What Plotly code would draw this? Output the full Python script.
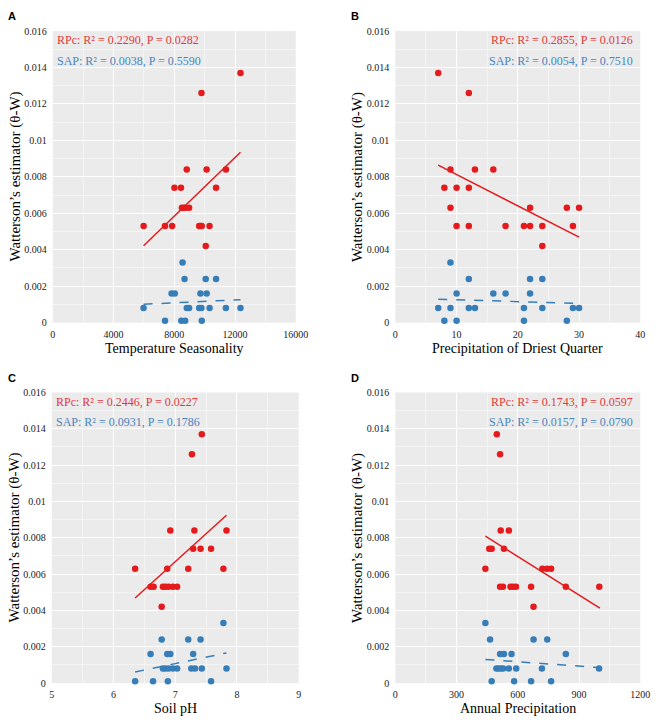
import plotly.graph_objects as go

# ---------------- data ----------------
# Panel A: Temperature Seasonality
A_red_x = [12360, 9790, 8820, 10130, 11400, 8010, 8440, 10750, 8500, 8620, 8740, 8975,
           5980, 7390, 7860, 9640, 9720, 9810, 10320, 10070]
A_red_y = [0.0137, 0.0126, 0.0084, 0.0084, 0.0084, 0.0074, 0.0074, 0.0074, 0.0063, 0.0063, 0.0063, 0.0063,
           0.0053, 0.0053, 0.0053, 0.0053, 0.0053, 0.0053, 0.0053, 0.0042]
A_blue_x = [8546, 8675, 10068, 10750, 7820, 8033, 9723, 10131, 5976, 8825, 8975, 9639, 9788,
            10325, 11396, 12358, 7390, 8461, 8718, 9810]
A_blue_y = [0.0033, 0.0024, 0.0024, 0.0024, 0.0016, 0.0016, 0.0016, 0.0016, 0.0008, 0.0008, 0.0008, 0.0008, 0.0008,
            0.0008, 0.0008, 0.0008, 0.0001, 0.0001, 0.0001, 0.0001]
A_fit_x = [5980, 12360]
A_red_fit = [0.00422, 0.00935]
A_blue_fit = [0.00101, 0.00126]
A_xticks = [0, 4000, 8000, 12000, 16000]
A_xticktext = ["0", "4000", "8000", "12000", "16000"]

# Panel B: Precipitation of Driest Quarter
B_red_x = [7, 12, 9, 13, 16, 8, 10, 12, 9, 22, 28, 30, 10, 12, 18, 21, 22, 24, 29, 24]
B_red_y = [0.0137, 0.0126, 0.0084, 0.0084, 0.0084, 0.0074, 0.0074, 0.0074, 0.0063, 0.0063, 0.0063, 0.0063,
           0.0053, 0.0053, 0.0053, 0.0053, 0.0053, 0.0053, 0.0053, 0.0042]
B_blue_x = [9, 12, 22, 24, 10, 16, 18, 22, 7, 9, 12, 13, 21, 24, 29, 30, 8, 10, 21, 28]
B_blue_y = [0.0033, 0.0024, 0.0024, 0.0024, 0.0016, 0.0016, 0.0016, 0.0016, 0.0008, 0.0008, 0.0008, 0.0008, 0.0008,
            0.0008, 0.0008, 0.0008, 0.0001, 0.0001, 0.0001, 0.0001]
B_fit_x = [7, 30]
B_red_fit = [0.00864, 0.00469]
B_blue_fit = [0.00128, 0.00106]
B_xticks = [0, 10, 20, 30, 40]
B_xticktext = ["0", "10", "20", "30", "40"]

# Panel C: Soil pH
C_red_x = [7.43, 7.27, 6.92, 7.31, 7.83, 7.29, 7.41, 7.58, 6.35, 6.87, 7.21, 7.78,
           6.60, 6.65, 6.80, 6.84, 6.89, 6.96, 7.03, 6.78]
C_red_y = [0.0137, 0.0126, 0.0084, 0.0084, 0.0084, 0.0074, 0.0074, 0.0074, 0.0063, 0.0063, 0.0063, 0.0063,
           0.0053, 0.0053, 0.0053, 0.0053, 0.0053, 0.0053, 0.0053, 0.0042]
C_blue_x = [7.78, 6.78, 7.21, 7.41, 6.60, 6.87, 6.92, 7.29, 6.80, 6.84, 6.89, 6.96, 7.03,
            7.26, 7.32, 7.43, 7.83, 6.35, 6.64, 6.88, 7.58]
C_blue_y = [0.0033, 0.0024, 0.0024, 0.0024, 0.0016, 0.0016, 0.0016, 0.0016, 0.0008, 0.0008, 0.0008, 0.0008, 0.0008,
            0.0008, 0.0008, 0.0008, 0.0008, 0.0001, 0.0001, 0.0001, 0.0001]
C_fit_x = [6.35, 7.83]
C_red_fit = [0.00468, 0.00924]
C_blue_fit = [0.00061, 0.00166]
C_xticks = [5, 6, 7, 8, 9]
C_xticktext = ["5", "6", "7", "8", "9"]

# Panel D: Annual Precipitation
D_red_x = [497, 513, 516, 556, 460, 472, 532, 441, 720, 743, 763, 513, 527, 564, 577, 591,
           665, 835, 999, 677]
D_red_y = [0.0137, 0.0126, 0.0084, 0.0084, 0.0074, 0.0074, 0.0074, 0.0063, 0.0063, 0.0063, 0.0063,
           0.0053, 0.0053, 0.0053, 0.0053, 0.0053, 0.0053, 0.0053, 0.0053, 0.0042]
D_blue_x = [441, 464, 677, 744, 513, 532, 569, 835, 495, 505, 517, 528, 556, 592, 718, 998,
            472, 582, 665, 763]
D_blue_y = [0.0033, 0.0024, 0.0024, 0.0024, 0.0016, 0.0016, 0.0016, 0.0016, 0.0008, 0.0008, 0.0008, 0.0008, 0.0008,
            0.0008, 0.0008, 0.0008, 0.0001, 0.0001, 0.0001, 0.0001]
D_fit_x = [441, 1002]
D_red_fit = [0.00809, 0.00412]
D_blue_fit = [0.0013, 0.00085]
D_xticks = [0, 300, 600, 900, 1200]
D_xticktext = ["0", "300", "600", "900", "1200"]

y_ticks = [0, 0.002, 0.004, 0.006, 0.008, 0.01, 0.012, 0.014, 0.016]
y_ticktext = ["0", "0.002", "0.004", "0.006", "0.008", "0.01", "0.012", "0.014", "0.016"]

panels = [
    dict(name="A", rx=A_red_x, ry=A_red_y, bx=A_blue_x, by=A_blue_y,
         fx=A_fit_x, rf=A_red_fit, bf=A_blue_fit, xticks=A_xticks, xtt=A_xticktext,
         xrange=[0, 16000], xtitle="Temperature Seasonality",
         rtext="RPc: R² = 0.2290, P = 0.0282", btext="SAP: R² = 0.0038, P = 0.5590", right=False),
    dict(name="B", rx=B_red_x, ry=B_red_y, bx=B_blue_x, by=B_blue_y,
         fx=B_fit_x, rf=B_red_fit, bf=B_blue_fit, xticks=B_xticks, xtt=B_xticktext,
         xrange=[0, 40], xtitle="Precipitation of Driest Quarter",
         rtext="RPc: R² = 0.2855, P = 0.0126", btext="SAP: R² = 0.0054, P = 0.7510", right=True),
    dict(name="C", rx=C_red_x, ry=C_red_y, bx=C_blue_x, by=C_blue_y,
         fx=C_fit_x, rf=C_red_fit, bf=C_blue_fit, xticks=C_xticks, xtt=C_xticktext,
         xrange=[5, 9], xtitle="Soil pH",
         rtext="RPc: R² = 0.2446, P = 0.0227", btext="SAP: R² = 0.0931, P = 0.1786", right=False),
    dict(name="D", rx=D_red_x, ry=D_red_y, bx=D_blue_x, by=D_blue_y,
         fx=D_fit_x, rf=D_red_fit, bf=D_blue_fit, xticks=D_xticks, xtt=D_xticktext,
         xrange=[0, 1200], xtitle="Annual Precipitation",
         rtext="RPc: R² = 0.1743, P = 0.0597", btext="SAP: R² = 0.0157, P = 0.0790", right=True),
]

RED = "#E41A1C"
BLUE = "#377EB8"
SERIF = "Liberation Serif"
W, H = 666, 722

# pixel geometry of plot areas (left, right, top, bottom)
boxes = [(51, 300, 25.5, 322), (402, 653, 25.5, 322), (50, 303, 393, 688.5), (402, 653, 393, 688.5)]

fig = go.Figure()
layout = dict(width=W, height=H, margin=dict(l=0, r=0, t=0, b=0),
              paper_bgcolor="white", plot_bgcolor="#EBEBEB", showlegend=False)
annotations = []

for i, (p, (l, r, t, b)) in enumerate(zip(panels, boxes)):
    suffix = "" if i == 0 else str(i + 1)
    xa, ya = "x" + suffix, "y" + suffix
    fig.add_trace(go.Scatter(x=p["fx"], y=p["bf"], mode="lines", xaxis=xa, yaxis=ya,
                             line=dict(color=BLUE, width=1.5, dash="dash"), hoverinfo="skip"))
    fig.add_trace(go.Scatter(x=p["fx"], y=p["rf"], mode="lines", xaxis=xa, yaxis=ya,
                             line=dict(color=RED, width=1.5), hoverinfo="skip"))
    fig.add_trace(go.Scatter(x=p["bx"], y=p["by"], mode="markers", xaxis=xa, yaxis=ya,
                             marker=dict(color=BLUE, size=6.5), cliponaxis=False))
    fig.add_trace(go.Scatter(x=p["rx"], y=p["ry"], mode="markers", xaxis=xa, yaxis=ya,
                             marker=dict(color=RED, size=6.5), cliponaxis=False))

    xd = [l / W, r / W]
    yd = [1 - b / H, 1 - t / H]
    dx = (p["xrange"][1] - p["xrange"][0]) / 8
    layout["xaxis" + suffix] = dict(
        domain=xd, range=p["xrange"], anchor=ya, tickvals=p["xticks"], ticktext=p["xtt"],
        showgrid=True, gridcolor="white", gridwidth=1.3, zeroline=False, showline=False,
        ticks="", ticklabelstandoff=4, tickfont=dict(family=SERIF, size=10, color="#222"),
        minor=dict(dtick=dx, tick0=p["xrange"][0], showgrid=True, gridcolor="#F4F4F4", gridwidth=0.7),
        fixedrange=True)
    layout["yaxis" + suffix] = dict(
        domain=yd, range=[0, 0.016], anchor=xa, tickvals=y_ticks, ticktext=y_ticktext,
        showgrid=True, gridcolor="white", gridwidth=1.3, zeroline=False, showline=False,
        ticks="", ticklabelstandoff=5, tickfont=dict(family=SERIF, size=10, color="#222"),
        minor=dict(dtick=0.001, tick0=0, showgrid=True, gridcolor="#F4F4F4", gridwidth=0.7),
        fixedrange=True)

    # stats texts
    tx = (r - 5) if p["right"] else (l + 2)
    anchor = "right" if p["right"] else "left"
    annotations.append(dict(text=p["rtext"], x=tx / W, y=1 - (t + 9.5) / H, xref="paper", yref="paper",
                            xanchor=anchor, yanchor="middle", showarrow=False,
                            font=dict(family=SERIF, size=12, color="#E0393B")))
    annotations.append(dict(text=p["btext"], x=tx / W, y=1 - (t + 30.5) / H, xref="paper", yref="paper",
                            xanchor=anchor, yanchor="middle", showarrow=False,
                            font=dict(family=SERIF, size=12, color="#4A86BE")))
    # x title
    annotations.append(dict(text=p["xtitle"], x=(l + r) / 2 / W, y=1 - (b + 26) / H, xref="paper", yref="paper",
                            xanchor="center", yanchor="middle", showarrow=False,
                            font=dict(family=SERIF, size=14, color="black")))
    # y title
    annotations.append(dict(text="Watterson’s estimator (θ-W)", x=(l - 38) / W, y=1 - (t + b) / 2 / H,
                            xref="paper", yref="paper", xanchor="center", yanchor="middle",
                            textangle=-90, showarrow=False,
                            font=dict(family=SERIF, size=15, color="black")))
    # panel letter
    lx = 9 if not p["right"] else 361
    ly = 10 if i < 2 else 378
    annotations.append(dict(text="<b>" + p["name"] + "</b>", x=lx / W, y=1 - ly / H, xref="paper", yref="paper",
                            xanchor="center", yanchor="middle", showarrow=False,
                            font=dict(family="Liberation Sans", size=11, color="black")))

layout["annotations"] = annotations
fig.update_layout(**layout)
fig.write_html("out.html", config={"displayModeBar": False},
               post_script="document.body.style.margin='0';document.body.style.overflow='hidden';")
